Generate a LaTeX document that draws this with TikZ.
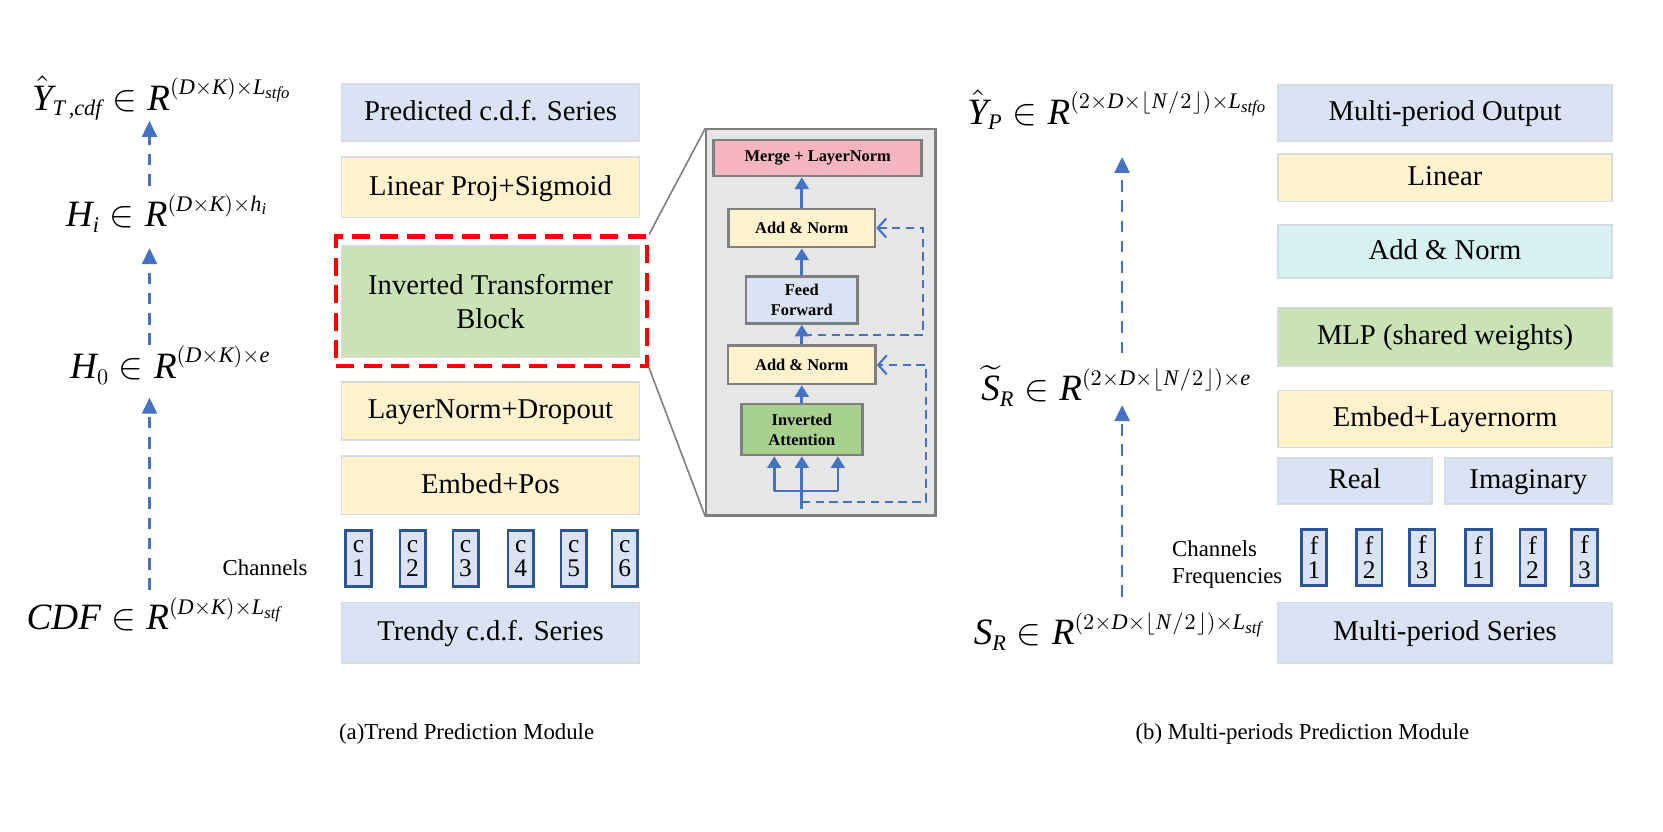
\documentclass[tikz,border=0pt]{standalone}
\usepackage{amsmath}
\usepackage{fontspec}
\setmainfont{Liberation Serif}
\DeclareFontShape{OML}{cmm}{m}{it}{<->cmmi10}{}
\DeclareFontShape{OMS}{cmsy}{m}{n}{<->cmsy10}{}
\DeclareFontShape{OT1}{cmr}{m}{n}{<->cmr10}{}
\DeclareFontShape{OMX}{cmex}{m}{n}{<->cmex10}{}
\usetikzlibrary{arrows.meta}
\renewcommand\defaultscriptratio{.6}
\renewcommand\defaultscriptscriptratio{.45}
\newcommand\mt[1]{\textit{#1}}
\newcommand\flh{\lfloor\mkern1mu \mt{N}\mkern1mu/\mkern1mu 2\mkern1mu\rfloor}
\definecolor{lb}{HTML}{DAE3F3}
\definecolor{ly}{HTML}{FFF2CC}
\definecolor{lg}{HTML}{C9E3B5}
\definecolor{lc}{HTML}{D6F2F0}
\definecolor{bordc}{HTML}{D6DAE3}
\definecolor{ablue}{HTML}{4472C4}
\definecolor{cblue}{HTML}{2F5597}
\definecolor{igray}{HTML}{7F7F7F}
\definecolor{ifill}{HTML}{E6E6E6}
\definecolor{ipink}{HTML}{F4B5BF}
\definecolor{igreen}{HTML}{A9D18E}
\tikzset{
  blk/.style={draw=bordc, line width=1.5pt, inner sep=0pt, align=center,
    font=\fontsize{27}{32}\selectfont},
  one/.style={text height=20pt, text depth=5pt},
  chan/.style={draw=cblue, fill=lb, line width=2.5pt, inner sep=0pt, align=center,
    minimum width=24pt, minimum height=53pt, font=\fontsize{24}{23}\selectfont},
  ibox/.style={draw=igray, line width=2.5pt, inner sep=0pt, align=center,
    font=\bfseries\fontsize{15.5}{19}\selectfont},
  mathlbl/.style={anchor=base west, inner sep=0pt, font=\fontsize{35}{40}\selectfont},
  capt/.style={inner sep=0pt, font=\fontsize{21.5}{26}\selectfont},
  dasharr/.style={draw=ablue, line width=2.5pt, dash pattern=on 11pt off 8pt,
    -{Triangle[length=15pt,width=14pt]}},
  solarr/.style={draw=ablue, line width=2.5pt, -{Triangle[length=11pt,width=13pt]}},
  solline/.style={draw=ablue, line width=2.5pt},
  resarr/.style={draw=ablue, line width=2pt, dash pattern=on 8pt off 5pt,
    -{Straight Barb[length=8pt,width=18pt]}},
}
\begin{document}
\begin{tikzpicture}[x=1pt,y=-1pt]
\useasboundingbox[fill=white] (0,0) rectangle (1568,784);

% ---------- left column ----------
\node[blk, one, fill=lb, minimum width=281pt, minimum height=54pt] (pred) at (462.5,106) {Predicted c.d.f. Series};
\node[blk, one, fill=ly, minimum width=281pt, minimum height=57pt] (lin) at (462.5,176.5) {Linear Proj+Sigmoid};
\node[blk, fill=lg, minimum width=281pt, minimum height=105pt] (itb) at (462.5,284.5) {Inverted Transformer\\Block};
\node[draw=red, line width=4pt, dash pattern=on 17pt off 9pt, minimum width=293pt, minimum height=122pt, inner sep=0pt] (redbox) at (463.5,284) {};
\node[blk, one, fill=ly, minimum width=281pt, minimum height=55pt] (lnd) at (462.5,387.5) {LayerNorm+Dropout};
\node[blk, one, fill=ly, minimum width=281pt, minimum height=55pt] (emb) at (462.5,457.5) {Embed+Pos};
\node[chan] (c1) at (338,526.5) {c\\1};
\node[chan] (c2) at (389,526.5) {c\\2};
\node[chan] (c3) at (439,526.5) {c\\3};
\node[chan] (c4) at (491,526.5) {c\\4};
\node[chan] (c5) at (541,526.5) {c\\5};
\node[chan] (c6) at (589,526.5) {c\\6};
\node[capt, anchor=base] (chl) at (250,543) {Channels};
\node[blk, one, fill=lb, minimum width=281pt, minimum height=57pt] (trendy) at (462.5,596.5) {Trendy c.d.f. Series};

% left math
\node[mathlbl] (yt) at (30,104) {$\hat{\mt{Y}}_{\mt{T\,,cdf}}\in \mt{R}^{(\mt{D}\times \mt{K})\times \mt{L}_{\mt{stfo}}}$};
\node[mathlbl] (hi) at (62,214) {$\mt{H}_{\mt{i}}\in \mt{R}^{(\mt{D}\times \mt{K})\times \mt{h}_{\mt{i}}}$};
\node[mathlbl] (h0) at (66,357) {$\mt{H}_{0}\in \mt{R}^{(\mt{D}\times \mt{K})\times \mt{e}}$};
\node[mathlbl] (cdf) at (25,594) {$\mt{CDF}\in \mt{R}^{(\mt{D}\times \mt{K})\times \mt{L}_{\mt{stf}}}$};
\coordinate (a1s) at (141,175); \coordinate (a1e) at (141,114);
\coordinate (a2s) at (141,325); \coordinate (a2e) at (141,234);
\coordinate (a3s) at (141,556); \coordinate (a3e) at (141,375);
\draw[dasharr] (a1s) -- (a1e);
\draw[dasharr] (a2s) -- (a2e);
\draw[dasharr] (a3s) -- (a3e);

\node[capt] (capa) at (440,692) {(a)Trend Prediction Module};

% ---------- inset ----------
\node[draw=igray, fill=ifill, line width=2pt, minimum width=216pt, minimum height=364pt, inner sep=0pt] (inset) at (774,304) {};
\draw[igray, line width=1.5pt] (redbox.north east) -- (inset.north west);
\draw[igray, line width=1.5pt] (redbox.south east) -- (inset.south west);
\node[ibox, fill=ipink, minimum width=196pt, minimum height=34pt] (merge) at (771,149) {Merge + LayerNorm};
\node[ibox, fill=ly, minimum width=138pt, minimum height=36pt] (an1) at (756,215) {Add \& Norm};
\node[ibox, fill=lb, minimum width=105pt, minimum height=44pt] (ff) at (756,283) {Feed\\Forward};
\node[ibox, fill=ly, minimum width=139pt, minimum height=36pt] (an2) at (756,344) {Add \& Norm};
\node[ibox, fill=igreen, minimum width=114pt, minimum height=48pt] (ia) at (756,405) {Inverted\\Attention};
\draw[solarr] (an1.north) -- (an1.north |- merge.south);
\draw[solarr] (ff.north) -- (an1.south);
\draw[solarr] (an2.north) -- (ff.south);
\draw[solarr] (ia.north) -- (an2.south);
\coordinate (inp) at (756,480);
\coordinate (brl) at (730,463);
\coordinate (brr) at (790,463);
\draw[solarr] (inp) -- (ia.south);
\draw[solline] (brl) -- (brr);
\draw[solarr] (brl) -- (brl |- ia.south);
\draw[solarr] (brr) -- (brr |- ia.south);
\coordinate (r1a) at (756,473);
\coordinate (r1b) at (873,473);
\coordinate (r1c) at (873,344);
\draw[resarr] (r1a) -- (r1b) -- (r1c) -- (an2.east);
\coordinate (r2a) at (758,316);
\coordinate (r2b) at (870,316);
\coordinate (r2c) at (870,215);
\draw[resarr] (r2a) -- (r2b) -- (r2c) -- (an1.east);

% ---------- right column ----------
\node[blk, one, fill=lb, minimum width=315pt, minimum height=53pt] (mpo) at (1362.5,106.5) {Multi-period Output};
\node[blk, one, fill=ly, minimum width=315pt, minimum height=45pt] (rlin) at (1362.5,167.5) {Linear};
\node[blk, one, fill=lc, minimum width=315pt, minimum height=50pt] (ran) at (1362.5,237) {Add \& Norm};
\node[blk, one, fill=lg, minimum width=315pt, minimum height=55pt] (mlp) at (1362.5,317.5) {MLP (shared weights)};
\node[blk, one, fill=ly, minimum width=315pt, minimum height=54pt] (eln) at (1362.5,395) {Embed+Layernorm};
\node[blk, one, fill=lb, minimum width=145pt, minimum height=43pt] (real) at (1277.5,453.5) {Real};
\node[blk, one, fill=lb, minimum width=158pt, minimum height=43pt] (imag) at (1441,453.5) {Imaginary};
\node[chan] (f1) at (1239,525.5) {f\\1};
\node[chan] (f2) at (1291,525.5) {f\\2};
\node[chan] (f3) at (1341,525.5) {f\\3};
\node[chan] (f4) at (1394,525.5) {f\\1};
\node[chan] (f5) at (1445,525.5) {f\\2};
\node[chan] (f6) at (1494,525.5) {f\\3};
\node[capt, anchor=base west] (chr) at (1105,525) {Channels};
\node[capt, anchor=base west] (frq) at (1105,550) {Frequencies};
\node[blk, one, fill=lb, minimum width=315pt, minimum height=57pt] (mps) at (1362.5,596.5) {Multi-period Series};

% right math
\node[mathlbl] (yp) at (912,117) {$\hat{\mt{Y}}_{\mt{P}}\in \mt{R}^{(2\times \mt{D}\times\flh)\times \mt{L}_{\mt{stfo}}}$};
\node[mathlbl] (st) at (925,378) {$\widetilde{\mt{S}}_{\mt{R}}\in \mt{R}^{(2\times \mt{D}\times\flh)\times \mt{e}}$};
\node[mathlbl] (sr) at (918,608) {$\mt{S}_{\mt{R}}\in \mt{R}^{(2\times \mt{D}\times\flh)\times \mt{L}_{\mt{stf}}}$};
\coordinate (b1s) at (1058,333); \coordinate (b1e) at (1058,148);
\coordinate (b2s) at (1058,563); \coordinate (b2e) at (1058,382);
\draw[dasharr] (b1s) -- (b1e);
\draw[dasharr] (b2s) -- (b2e);

\node[capt] (capb) at (1228,692) {(b) Multi-periods Prediction Module};
\end{tikzpicture}
\end{document}
